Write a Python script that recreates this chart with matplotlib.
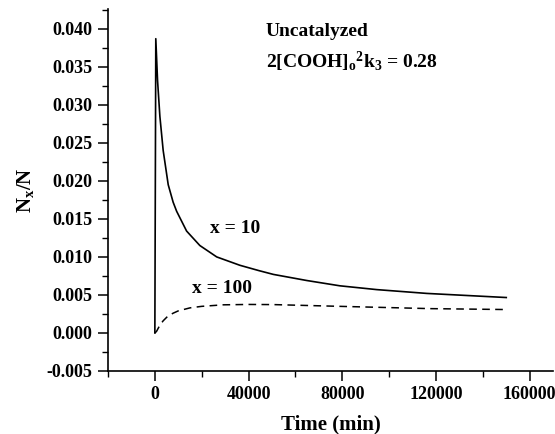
import matplotlib
matplotlib.use("Agg")
import matplotlib.pyplot as plt
from matplotlib.ticker import MultipleLocator

plt.rcParams['font.family'] = ['Liberation Serif', 'DejaVu Serif']
plt.rcParams['font.weight'] = 'bold'
plt.rcParams['mathtext.fontset'] = 'custom'
plt.rcParams['mathtext.rm'] = 'Liberation Serif:bold'
plt.rcParams['mathtext.it'] = 'Liberation Serif:bold'
plt.rcParams['mathtext.bf'] = 'Liberation Serif:bold'

# x = 10 (solid)
t10 = [0, 400, 1150, 2140, 3550, 5700, 7800, 9300, 13550, 19200, 26400, 36300,
       44400, 50600, 64800, 79000, 94750, 116100, 150000]
n10 = [0.0, 0.0387, 0.0332, 0.0285, 0.0240, 0.0195, 0.0172, 0.0160, 0.0134,
       0.0115, 0.0100, 0.0089, 0.0082, 0.0077, 0.0069, 0.0062, 0.0057, 0.0052,
       0.00466]

# x = 100 (dashed)
t100 = [0, 700, 2100, 3550, 5500, 7800, 9960, 15000, 20000, 29200, 40000,
        50600, 79000, 117500, 150000]
n100 = [0.0, 0.0002, 0.0010, 0.0016, 0.0022, 0.0026, 0.0029, 0.0033, 0.0035,
        0.0037, 0.00375, 0.00373, 0.0035, 0.0032, 0.00308]

xticks = [0, 40000, 80000, 120000, 160000]
yticks = [-0.005, 0.000, 0.005, 0.010, 0.015, 0.020, 0.025, 0.030, 0.035, 0.040]

fig = plt.figure(figsize=(5.55, 4.34), dpi=100)
ax = fig.add_axes([0.1946, 0.1452, 0.802, 0.834])

ax.plot(t10, n10, color='black', lw=1.2, solid_joinstyle='round')
ax.plot(t100, n100, color='black', lw=1.1, linestyle=(0, (5, 3.5)))

ax.set_xlim(-20000, 170000)
ax.set_ylim(-0.005, 0.0426)
ax.set_xticks(xticks)
ax.set_xticklabels([f"{v:d}" for v in xticks])
ax.set_yticks(yticks)
ax.set_yticklabels([f"{v:.3f}" for v in yticks])
ax.xaxis.set_minor_locator(MultipleLocator(20000))
ax.yaxis.set_minor_locator(MultipleLocator(0.0025))

for s in ['top', 'right']:
    ax.spines[s].set_visible(False)
for s in ['left', 'bottom']:
    ax.spines[s].set_linewidth(1.2)

ax.tick_params(which='major', direction='out', length=7, width=1.1, labelsize=13, pad=4)
ax.tick_params(which='minor', direction='out', length=4, width=1.0)

ax.set_xlabel('Time (min)', fontsize=15, fontweight='bold', labelpad=8)
ax.set_ylabel(r'N$_\mathrm{x}$/N', fontsize=15, fontweight='bold', labelpad=8)

ax.text(47400, 0.0396, 'Uncatalyzed', fontsize=14, fontweight='bold', ha='left', va='center')
ax.text(47400, 0.0357, r'2[COOH]$_\mathrm{o}$$^\mathrm{2}$k$_\mathrm{3}$ = 0.28',
        fontsize=14, fontweight='bold', ha='left', va='center')
ax.text(34200, 0.0138, 'x = 10', fontsize=14, fontweight='bold', ha='center', va='center')
ax.text(28500, 0.00584, 'x = 100', fontsize=14, fontweight='bold', ha='center', va='center')

fig.savefig('out.png', dpi=100)
